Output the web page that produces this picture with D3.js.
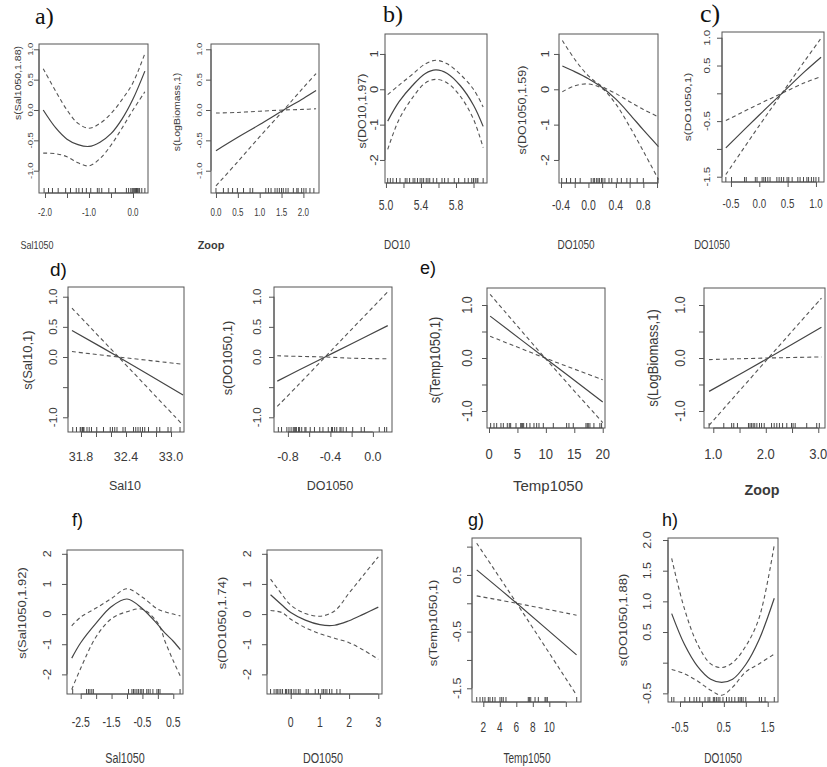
<!DOCTYPE html>
<html><head><meta charset="utf-8">
<script src="https://cdn.jsdelivr.net/npm/d3@7"></script>
<style>body{margin:0;background:#fff}svg{display:block}</style>
</head><body>
<svg id="chart" width="827" height="767"></svg>
<script>
// ---------- DATA ----------
// a) left: s(Sal1050,1.88)
const a1X = [-2.04,-1.75,-1.5,-1.25,-1.0,-0.75,-0.5,-0.25,0.0,0.27];
const a1Fit = [0.0,-0.3,-0.48,-0.57,-0.6,-0.53,-0.39,-0.15,0.18,0.64];
const a1Upper = [0.68,0.3,0.0,-0.22,-0.3,-0.22,-0.06,0.17,0.45,0.93];
const a1Lower = [-0.71,-0.72,-0.77,-0.87,-0.92,-0.8,-0.58,-0.3,0.0,0.3];
const a1Rug = [-2.02,-1.92,-1.83,-1.7,-1.53,-1.42,-1.29,-1.23,-1.15,-1.06,-0.96,-0.81,-0.77,-0.71,-0.55,-0.4,-0.15,-0.1,-0.05,-0.02,0.0,0.02,0.04,0.06,0.08,0.1,0.12,0.15,0.2,0.27];
// a) right: s(LogBiomass,1)
const a2X = [0.0,0.5,1.0,1.55,2.0,2.29];
const a2Fit = [-0.67,-0.45,-0.24,0.0,0.19,0.32];
const a2Upper = [-1.25,-0.85,-0.44,0.0,0.37,0.6];
const a2Lower = [-0.05,-0.04,-0.02,0.0,0.01,0.02];
const a2Rug = [0.0,0.17,0.28,0.38,0.49,0.63,0.78,0.84,1.14,1.2,1.26,1.35,1.4,1.45,1.5,1.54,1.6,1.65,1.77,1.85,1.88,1.96,2.01,2.06,2.15,2.24];
// b) left: s(DO10,1.97)
const b1X = [5.02,5.15,5.3,5.45,5.57,5.7,5.85,6.0,6.11];
const b1Fit = [-0.9,-0.35,0.1,0.45,0.55,0.45,0.1,-0.45,-1.05];
const b1Upper = [-0.15,0.12,0.42,0.72,0.82,0.72,0.42,0.0,-0.5];
const b1Lower = [-1.7,-0.85,-0.25,0.18,0.28,0.18,-0.2,-0.85,-1.65];
const b1Rug = [5.02,5.05,5.08,5.12,5.16,5.22,5.24,5.27,5.31,5.33,5.36,5.39,5.41,5.43,5.46,5.48,5.5,5.54,5.58,5.64,5.67,5.71,5.78,5.83,5.9,5.94,5.98,6.0,6.02,6.04,6.05,6.11];
// b) right: s(DO1050,1.59)
const b2X = [-0.38,-0.2,0.0,0.2,0.4,0.6,0.8,1.02];
const b2Fit = [0.66,0.5,0.3,0.05,-0.28,-0.7,-1.15,-1.62];
const b2Upper = [1.38,0.85,0.38,0.08,-0.12,-0.35,-0.57,-0.78];
const b2Lower = [-0.07,0.1,0.15,0.02,-0.42,-1.05,-1.75,-2.55];
const b2Rug = [-0.39,-0.32,-0.26,-0.19,-0.12,0.04,0.07,0.09,0.12,0.14,0.16,0.19,0.21,0.24,0.3,0.34,0.42,0.48,0.56,0.61,0.71,0.8,1.01];
// c) s(DO1050,1)
const cX = [-0.59,0.0,0.4,0.8,1.09];
const cFit = [-0.98,-0.39,0.0,0.39,0.65];
const cUpper = [-1.46,-0.58,0.0,0.58,0.99];
const cLower = [-0.49,-0.19,0.0,0.19,0.3];
const cRug = [-0.59,-0.49,-0.26,-0.23,-0.07,-0.04,0.05,0.08,0.11,0.15,0.19,0.31,0.35,0.39,0.43,0.49,0.52,0.58,0.68,0.72,0.78,0.84,0.87,0.92,0.96,1.0,1.05];
// d) left: s(Sal10,1)
const d1X = [31.68,32.3,33.16];
const d1Fit = [0.44,0.0,-0.63];
const d1Upper = [0.81,0.0,-1.13];
const d1Lower = [0.09,0.0,-0.12];
const d1Rug = [31.69,31.74,31.79,31.8,31.82,31.83,31.84,31.88,31.91,31.94,32.01,32.1,32.19,32.22,32.25,32.28,32.36,32.39,32.5,32.53,32.56,32.59,32.62,32.65,32.7,32.81,32.85,32.96,33.0,33.12];
// d) right: s(DO1050,1)
const d2X = [-0.9,-0.7,-0.45,-0.2,0.14];
const d2Fit = [-0.4,-0.22,0.0,0.22,0.52];
const d2Upper = [-0.82,-0.46,0.0,0.46,1.08];
const d2Lower = [0.02,0.01,0.0,-0.02,-0.03];
const d2Rug = [-0.89,-0.86,-0.81,-0.79,-0.77,-0.75,-0.74,-0.73,-0.72,-0.7,-0.69,-0.67,-0.64,-0.63,-0.59,-0.55,-0.5,-0.47,-0.42,-0.39,-0.38,-0.36,-0.34,-0.31,-0.3,-0.28,-0.25,-0.19,-0.11,-0.08,0.06,0.11,0.13];
// e) left: s(Temp1050,1)
const e1X = [0.2,9.85,20.0];
const e1Fit = [0.79,0.0,-0.83];
const e1Upper = [1.2,0.0,-1.22];
const e1Lower = [0.41,0.0,-0.41];
const e1Rug = [0.29,0.88,1.35,2.1,2.52,3.22,3.57,3.81,4.75,5.57,5.75,5.92,6.1,6.62,7.2,7.91,8.38,8.79,9.55,11.31,13.65,14.06,14.82,17.05,17.28,17.46,17.75,18.45,19.5,19.8];
// e) right: s(LogBiomass,1)
const e2X = [0.92,2.05,3.06];
const e2Fit = [-0.63,0.0,0.58];
const e2Upper = [-1.27,0.0,1.13];
const e2Lower = [-0.03,0.0,0.02];
const e2Rug = [0.92,1.2,1.35,1.39,1.46,1.67,1.7,1.73,1.76,1.79,1.83,1.88,1.92,1.97,2.11,2.16,2.21,2.26,2.32,2.4,2.49,2.52,2.56,2.78,2.97,3.02];
// f) left: s(Sal1050,1.92)
const f1X = [-2.79,-2.5,-2.0,-1.5,-1.0,-0.5,0.0,0.25,0.5,0.73];
const f1Fit = [-1.46,-0.95,-0.3,0.25,0.5,0.18,-0.35,-0.65,-0.9,-1.18];
const f1Upper = [-0.39,-0.1,0.2,0.52,0.84,0.56,0.16,0.07,0.0,-0.06];
const f1Lower = [-2.5,-1.8,-0.75,-0.15,0.08,0.16,-0.3,-0.95,-1.55,-2.06];
const f1Rug = [-2.76,-2.31,-2.25,-2.2,-2.14,-2.09,-0.95,-0.84,-0.79,-0.74,-0.68,-0.63,-0.57,-0.52,-0.47,-0.36,-0.31,-0.25,-0.16,-0.03,0.02,0.07,0.72];
// f) right: s(DO1050,1.74)
const f2X = [-0.69,-0.3,0.0,0.5,1.0,1.5,2.0,2.5,3.0];
const f2Fit = [0.64,0.3,0.05,-0.2,-0.35,-0.37,-0.22,0.0,0.23];
const f2Upper = [1.16,0.65,0.3,0.02,-0.07,0.1,0.7,1.3,1.9];
const f2Lower = [0.12,0.05,-0.17,-0.45,-0.65,-0.8,-0.95,-1.2,-1.5];
const f2Rug = [-0.69,-0.57,-0.5,-0.46,-0.4,-0.34,-0.28,-0.18,-0.14,-0.08,-0.02,0.03,0.11,0.18,0.26,0.32,0.53,0.6,0.84,0.95,1.07,1.12,1.18,1.24,1.33,1.41,1.58,1.69];
// g) s(Temp1050,1)
const gX = [1.2,6.05,13.3];
const gFit = [0.59,0.0,-0.91];
const gUpper = [1.06,0.0,-1.62];
const gLower = [0.13,0.0,-0.21];
const gRug = [1.2,1.6,1.93,2.2,2.61,2.81,3.13,3.42,4.02,4.23,4.42,4.75,7.45,7.58,7.75,8.27,8.67,9.48,9.6,9.76,13.32];
// h) s(DO1050,1.88)
const hX = [-0.69,-0.4,-0.1,0.2,0.45,0.7,1.0,1.3,1.65];
const hFit = [0.8,0.3,-0.06,-0.27,-0.32,-0.27,-0.03,0.37,1.05];
const hUpper = [1.7,0.88,0.3,-0.02,-0.08,0.0,0.27,0.72,1.92];
const hLower = [-0.11,-0.18,-0.3,-0.45,-0.53,-0.4,-0.15,-0.02,0.14];
const hRug = [-0.69,-0.64,-0.39,-0.28,-0.18,-0.12,-0.05,0.07,0.14,0.18,0.26,0.29,0.33,0.37,0.41,0.48,0.56,0.62,0.68,0.75,0.83,0.87,0.9,0.94,1.0,1.31,1.36,1.44,1.65];

// tick values and labels
const a1XTicks = [-2.0,-1.5,-1.0,-0.5,0.0], a1XTickLabels = ['-2.0','','-1.0','','0.0'];
const aYTicks = [-1.0,-0.5,0.0,0.5,1.0], aYTickLabels = ['-1.0','-0.5','0.0','0.5','1.0'];
const a2XTicks = [0.0,0.5,1.0,1.5,2.0], a2XTickLabels = ['0.0','0.5','1.0','1.5','2.0'];
const b1XTicks = [5.0,5.2,5.4,5.6,5.8,6.0], b1XTickLabels = ['5.0','','5.4','','5.8',''];
const bYTicks = [-2,-1,0,1], bYTickLabels = ['-2','-1','0','1'];
const b2XTicks = [-0.4,-0.2,0.0,0.2,0.4,0.6,0.8,1.0], b2XTickLabels = ['-0.4','','0.0','','0.4','','0.8',''];
const cXTicks = [-0.5,0.0,0.5,1.0], cXTickLabels = ['-0.5','0.0','0.5','1.0'];
const cYTicks = [-1.5,-1.0,-0.5,0.0,0.5,1.0], cYTickLabels = ['-1.5','','-0.5','','0.5','1.0'];
const d1XTicks = [31.8,32.0,32.2,32.4,32.6,32.8,33.0], d1XTickLabels = ['31.8','','','32.4','','','33.0'];
const dYTicks = [-1.0,-0.5,0.0,0.5,1.0], dYTickLabels = ['-1.0','','0.0','0.5','1.0'];
const d2XTicks = [-0.8,-0.6,-0.4,-0.2,0.0], d2XTickLabels = ['-0.8','','-0.4','','0.0'];
const e1XTicks = [0,5,10,15,20], e1XTickLabels = ['0','5','10','15','20'];
const eYTicks = [-1.0,-0.5,0.0,0.5,1.0], eYTickLabels = ['-1.0','','0.0','','1.0'];
const e2XTicks = [1.0,1.5,2.0,2.5,3.0], e2XTickLabels = ['1.0','','2.0','','3.0'];
const f1XTicks = [-2.5,-2.0,-1.5,-1.0,-0.5,0.0,0.5], f1XTickLabels = ['-2.5','','-1.5','','-0.5','','0.5'];
const fYTicks = [-2,-1,0,1,2], fYTickLabels = ['-2','-1','0','1','2'];
const f2XTicks = [0,1,2,3], f2XTickLabels = ['0','1','2','3'];
const gXTicks = [2,4,6,8,10,12], gXTickLabels = ['2','4','6','8','10',''];
const gYTicks = [-1.5,-1.0,-0.5,0.0,0.5,1.0], gYTickLabels = ['-1.5','','-0.5','','0.5',''];
const hXTicks = [-0.5,0.0,0.5,1.0,1.5], hXTickLabels = ['-0.5','','0.5','','1.5'];
const hYTicks = [-0.5,0.0,0.5,1.0,1.5,2.0], hYTickLabels = ['-0.5','','0.5','1.0','1.5','2.0'];

// axis titles
const yTitles = ['s(Sal1050,1.88)','s(LogBiomass,1)','s(DO10,1.97)','s(DO1050,1.59)','s(DO1050,1)','s(Sal10,1)','s(DO1050,1)','s(Temp1050,1)','s(LogBiomass,1)','s(Sal1050,1.92)','s(DO1050,1.74)','s(Temp1050,1)','s(DO1050,1.88)'];
const xTitles = ['Sal1050','Zoop','DO10','DO1050','DO1050','Sal10','DO1050','Temp1050','Zoop','Sal1050','DO1050','Temp1050','DO1050'];
const panelLetters = ['a)','b)','c)','d)','e)','f)','g)','h)'];

// ---------- LAYOUT / STYLE ----------
const SANS = "'Liberation Sans', Arial, sans-serif";
const SERIF = "'Liberation Serif', 'Times New Roman', serif";
const TXT = '#3a3a3a', BOX = '#555', LINE = '#444', DASH = '#555';

const stA = {xt:[10,0.8], yt:[9.5,0.85], xl:[10,0.9], yl:[10.5,0.85]};
const stA2 = {xt:[10,0.8], yt:[9.5,0.85], xl:[11.5,1], yl:[10.5,0.85]};
const stB = {xt:[14.5,0.72], yt:[13,0.8], xl:[12.5,0.8], yl:[12.5,0.8]};
const stC = {xt:[13,0.75], yt:[11.5,0.8], xl:[12,0.8], yl:[12,0.8]};
const stD = {xt:[12.5,1], yt:[11.5,1], xl:[12.5,1], yl:[13,1]};
const stE = {xt:[14.5,0.9], yt:[12.5,1.1], xl:[15,1], yl:[13,1.1]};
const stF = {xt:[14,0.75], yt:[12.5,0.8], xl:[15,0.72], yl:[13,0.8]};
const stG = {xt:[14,0.72], yt:[12.5,0.8], xl:[14,0.72], yl:[13,0.8]};

const panels = [
 {box:[39,44,148,193], xDom:[-2.136,0.341], yDom:[-1.367,1.087], x:a1X, fit:a1Fit, up:a1Upper, lo:a1Lower, rug:a1Rug, xt:a1XTicks, xtl:a1XTickLabels, yt:aYTicks, ytl:aYTickLabels, ytx:30, xty:212, ylx:18, yly:83, xlx:37, xly:245, st:stA},
 {box:[211,44,319,193], xDom:[-0.114,2.357], yDom:[-1.367,1.087], x:a2X, fit:a2Fit, up:a2Upper, lo:a2Lower, rug:a2Rug, xt:a2XTicks, xtl:a2XTickLabels, yt:aYTicks, ytl:aYTickLabels, ytx:199, xty:212, ylx:177, yly:112, xlx:211, xly:245, st:stA2, bold:true},
 {box:[385,34,487,183], xDom:[4.989,6.154], yDom:[-2.652,1.565], x:b1X, fit:b1Fit, up:b1Upper, lo:b1Lower, rug:b1Rug, xt:b1XTicks, xtl:b1XTickLabels, yt:bYTicks, ytl:bYTickLabels, ytx:374, xty:205, ylx:362, yly:111, xlx:397, xly:245, st:stB},
 {box:[559,34,658,183], xDom:[-0.429,1.014], yDom:[-2.652,1.565], x:b2X, fit:b2Fit, up:b2Upper, lo:b2Lower, rug:b2Rug, xt:b2XTicks, xtl:b2XTickLabels, yt:bYTicks, ytl:bYTickLabels, ytx:545, xty:205, ylx:522, yly:110, xlx:576, xly:245, st:stB},
 {box:[722,32,824,182], xDom:[-0.658,1.142], yDom:[-1.595,1.103], x:cX, fit:cFit, up:cUpper, lo:cLower, rug:cRug, xt:cXTicks, xtl:cXTickLabels, yt:cYTicks, ytl:cYTickLabels, ytx:707, xty:203, ylx:688, yly:107, xlx:712, xly:245, st:stC},
 {box:[68,287,184,432], xDom:[31.627,33.173], yDom:[-1.244,1.161], x:d1X, fit:d1Fit, up:d1Upper, lo:d1Lower, rug:d1Rug, xt:d1XTicks, xtl:d1XTickLabels, yt:dYTicks, ytl:dYTickLabels, ytx:53, xty:457, ylx:27, yly:360, xlx:125, xly:486, st:stD},
 {box:[274,287,392,432], xDom:[-0.931,0.180], yDom:[-1.244,1.161], x:d2X, fit:d2Fit, up:d2Upper, lo:d2Lower, rug:d2Rug, xt:d2XTicks, xtl:d2XTickLabels, yt:dYTicks, ytl:dYTickLabels, ytx:257, xty:457, ylx:227, yly:358, xlx:330, xly:486, st:stD},
 {box:[487,288,605,428], xDom:[-0.352,20.4], yDom:[-1.321,1.321], x:e1X, fit:e1Fit, up:e1Upper, lo:e1Lower, rug:e1Rug, xt:e1XTicks, xtl:e1XTickLabels, yt:eYTicks, ytl:eYTickLabels, ytx:467, xty:454, ylx:435, yly:360, xlx:548, xly:486, st:stE},
 {box:[704,288,825,428], xDom:[0.823,3.128], yDom:[-1.321,1.321], x:e2X, fit:e2Fit, up:e2Upper, lo:e2Lower, rug:e2Rug, xt:e2XTicks, xtl:e2XTickLabels, yt:eYTicks, ytl:eYTickLabels, ytx:680, xty:454, ylx:653, yly:358, xlx:762, xly:490, st:stE, bold:true},
 {box:[67,550,183,694], xDom:[-2.944,0.815], yDom:[-2.651,2.126], x:f1X, fit:f1Fit, up:f1Upper, lo:f1Lower, rug:f1Rug, xt:f1XTicks, xtl:f1XTickLabels, yt:fYTicks, ytl:fYTickLabels, ytx:47, xty:722, ylx:22, yly:613, xlx:125, xly:758, st:stF},
 {box:[267,550,382,694], xDom:[-0.812,3.127], yDom:[-2.651,2.126], x:f2X, fit:f2Fit, up:f2Upper, lo:f2Lower, rug:f2Rug, xt:f2XTicks, xtl:f2XTickLabels, yt:fYTicks, ytl:fYTickLabels, ytx:247, xty:722, ylx:222, yly:623, xlx:323, xly:758, st:stF},
 {box:[472,538,581,702], xDom:[0.63,13.84], yDom:[-1.742,1.152], x:gX, fit:gFit, up:gUpper, lo:gLower, rug:gRug, xt:gXTicks, xtl:gXTickLabels, yt:gYTicks, ytl:gYTickLabels, ytx:457, xty:727, ylx:433, yly:623, xlx:527, xly:758, st:stG},
 {box:[668,538,778,702], xDom:[-0.774,1.735], yDom:[-0.641,2.033], x:hX, fit:hFit, up:hUpper, lo:hLower, rug:hRug, xt:hXTicks, xtl:hXTickLabels, yt:hYTicks, ytl:hYTickLabels, ytx:647, xty:727, ylx:623, yly:620, xlx:723, xly:758, st:stG}
];

const letterPos = [
 {x:35,y:24,fs:24,serif:true},{x:383,y:22,fs:24,serif:true},{x:700,y:22,fs:26,serif:true},
 {x:50,y:276,fs:19},{x:420,y:274,fs:18},{x:72,y:526,fs:18},{x:468,y:526,fs:18},{x:662,y:526,fs:18}
];

// ---------- DRAW ----------
const svg = d3.select('#chart');
svg.append('rect').attr('width',827).attr('height',767).attr('fill','#fff');

function txt(g, s, x, y, fs, sx, rot, opts={}) {
  g.append('text')
   .attr('transform', `translate(${x},${y}) scale(${sx},1)` + (rot ? ` rotate(${rot})` : ''))
   .attr('text-anchor', opts.anchor || 'middle')
   .attr('dy', opts.dy || '0.35em')
   .attr('font-family', opts.family || SANS)
   .attr('font-size', fs)
   .attr('font-weight', opts.bold ? 'bold' : 'normal')
   .attr('fill', TXT)
   .text(s);
}

panels.forEach((p, i) => {
  const [l,t,r,b] = p.box;
  const xs = d3.scaleLinear().domain(p.xDom).range([l,r]);
  const ys = d3.scaleLinear().domain(p.yDom).range([b,t]);
  const g = svg.append('g');

  // axes (ticks outward)
  const xa = d3.axisBottom(xs).tickValues(p.xt).tickSize(5).tickSizeOuter(0).tickFormat('');
  const ya = d3.axisLeft(ys).tickValues(p.yt).tickSize(5).tickSizeOuter(0).tickFormat('');
  const gx = g.append('g').attr('transform',`translate(0,${b})`).call(xa);
  const gy = g.append('g').attr('transform',`translate(${l},0)`).call(ya);
  [gx,gy].forEach(a => { a.selectAll('path').attr('stroke',BOX); a.selectAll('line').attr('stroke',BOX).attr('stroke-width',1); });
  gx.select('.domain').attr('d', `M${xs(p.xt[0])},0H${xs(p.xt[p.xt.length-1])}`);
  gy.select('.domain').attr('d', `M0,${ys(p.yt[0])}V${ys(p.yt[p.yt.length-1])}`);

  // tick labels
  p.xt.forEach((v,k) => { if (p.xtl[k]) txt(g, p.xtl[k], xs(v), p.xty, p.st.xt[0], p.st.xt[1], 0); });
  p.yt.forEach((v,k) => { if (p.ytl[k]) txt(g, p.ytl[k], p.ytx, ys(v), p.st.yt[0], p.st.yt[1], -90); });

  // axis titles
  txt(g, yTitles[i], p.ylx, p.yly, p.st.yl[0], p.st.yl[1], -90);
  txt(g, xTitles[i], p.xlx, p.xly, p.bold ? p.st.xl[0]*0.95 : p.st.xl[0], p.st.xl[1], 0, {bold: !!p.bold});

  // rug
  g.selectAll('line.rug').data(p.rug).join('line').attr('class','rug')
    .attr('x1', d => xs(d)).attr('x2', d => xs(d))
    .attr('y1', b).attr('y2', b - 5)
    .attr('stroke', '#333').attr('stroke-width', 0.9);

  // curves
  const mk = ys2 => p.x.map((xv,k) => [xv, ys2[k]]);
  const line = d3.line().x(d => xs(d[0])).y(d => ys(d[1])).curve(d3.curveCatmullRom.alpha(0.5));
  g.append('path').attr('d', line(mk(p.up))).attr('fill','none').attr('stroke',DASH).attr('stroke-width',1.1).attr('stroke-dasharray','4,3');
  g.append('path').attr('d', line(mk(p.lo))).attr('fill','none').attr('stroke',DASH).attr('stroke-width',1.1).attr('stroke-dasharray','4,3');
  g.append('path').attr('d', line(mk(p.fit))).attr('fill','none').attr('stroke',LINE).attr('stroke-width',1.2);

  // box
  g.append('rect').attr('x',l).attr('y',t).attr('width',r-l).attr('height',b-t)
    .attr('fill','none').attr('stroke',BOX).attr('stroke-width',1);
});

panelLetters.forEach((s,k) => {
  const lp = letterPos[k];
  svg.append('text').attr('x',lp.x).attr('y',lp.y)
    .attr('font-family', lp.serif ? SERIF : SANS).attr('font-size', lp.fs)
    .attr('fill','#111').text(s);
});
</script>
</body></html>
